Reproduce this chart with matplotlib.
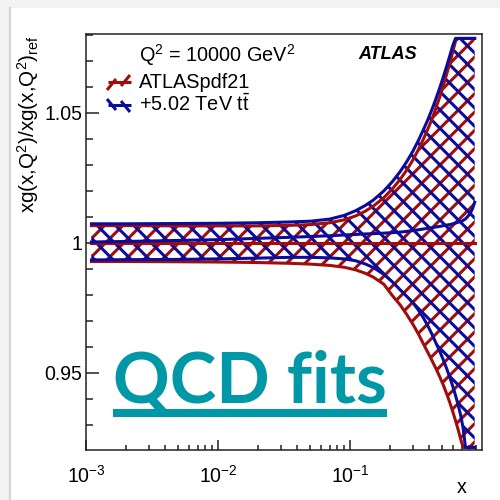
import matplotlib
matplotlib.use("Agg")
import matplotlib.pyplot as plt
from matplotlib.lines import Line2D
from matplotlib.patches import Rectangle
from matplotlib.ticker import FixedLocator, FixedFormatter, LogLocator, LogFormatterSciNotation, MultipleLocator

# ---- data ----
x = [0.0011, 0.002, 0.005, 0.01, 0.02, 0.035, 0.05, 0.07, 0.09, 0.11, 0.13, 0.15,
     0.18, 0.21, 0.24, 0.27, 0.3, 0.33, 0.36, 0.39, 0.42, 0.45, 0.48, 0.51,
     0.54, 0.57, 0.6, 0.63, 0.66, 0.69, 0.72, 0.75, 0.78, 0.82, 0.85, 0.88]

# ATLASpdf21 band (the reference, central = 1)
pdf21_up = [1.0065, 1.0065, 1.0064, 1.0064, 1.0064, 1.0066, 1.0069, 1.0076, 1.0087, 1.0102, 1.0120, 1.0140,
            1.0172, 1.0207, 1.0243, 1.0280, 1.0318, 1.0358, 1.0398, 1.0438, 1.0478, 1.0520, 1.0562, 1.0605,
            1.0648, 1.0690, 1.0733, 1.0775, 1.0785, 1.0785, 1.0785, 1.0785, 1.0785, 1.0785, 1.0785, 1.0785]
pdf21_mid = [1.0] * len(x)
pdf21_lo = [0.9927, 0.9927, 0.9926, 0.9925, 0.9923, 0.9920, 0.9917, 0.9912, 0.9905, 0.9895, 0.9882, 0.9867,
            0.9840, 0.9795, 0.9760, 0.9722, 0.9685, 0.9648, 0.9610, 0.9576, 0.9544, 0.9513, 0.9482, 0.9451,
            0.9418, 0.9385, 0.9350, 0.9315, 0.9280, 0.9243, 0.9212, 0.9212, 0.9212, 0.9212, 0.9212, 0.9212]

# +5.02 TeV ttbar band
ttbar_up = [1.0072, 1.0072, 1.0073, 1.0074, 1.0076, 1.0079, 1.0082, 1.0090, 1.0104, 1.0122, 1.0142, 1.0163,
            1.0198, 1.0235, 1.0273, 1.0312, 1.0352, 1.0393, 1.0434, 1.0474, 1.0515, 1.0556, 1.0597, 1.0638,
            1.0678, 1.0718, 1.0757, 1.0785, 1.0785, 1.0785, 1.0785, 1.0785, 1.0785, 1.0785, 1.0785, 1.0785]
ttbar_mid = [1.0002, 1.0004, 1.0008, 1.0011, 1.0016, 1.0020, 1.0023, 1.0026, 1.0029, 1.0031, 1.0033, 1.0034,
             1.0036, 1.0038, 1.0040, 1.0043, 1.0046, 1.0049, 1.0052, 1.0055, 1.0057, 1.0060, 1.0062, 1.0065,
             1.0067, 1.0069, 1.0072, 1.0075, 1.0078, 1.0081, 1.0085, 1.0091, 1.0100, 1.0115, 1.0132, 1.0155]
ttbar_lo = [0.9933, 0.9934, 0.9935, 0.9937, 0.9940, 0.9943, 0.9943, 0.9941, 0.9937, 0.9930, 0.9918, 0.9904,
            0.9878, 0.9848, 0.9818, 0.9792, 0.9768, 0.9740, 0.9710, 0.9678, 0.9645, 0.9611, 0.9580, 0.9548,
            0.9515, 0.9482, 0.9448, 0.9412, 0.9375, 0.9335, 0.9285, 0.9212, 0.9212, 0.9212, 0.9212, 0.9212]

y_ticks = [0.95, 1.0, 1.05]
y_ticklabels = ["0.95", "1", "1.05"]

RED = "#a00d0d"
BLUE = "#0c0c9c"
TEAL = "#0098a6"

plt.rcParams["font.family"] = ["Liberation Sans", "DejaVu Sans"]
plt.rcParams["mathtext.fontset"] = "custom"
plt.rcParams["mathtext.rm"] = "Liberation Sans"
plt.rcParams["mathtext.it"] = "Liberation Sans:italic"
plt.rcParams["mathtext.bf"] = "Liberation Sans:bold"
plt.rcParams["hatch.linewidth"] = 2.0

DPI = 110
fig = plt.figure(figsize=(500 / DPI, 500 / DPI), dpi=DPI)
fig.patch.set_facecolor("#f3f3f3")


def fx(p):
    return p / 500.0


def fy(p):
    return 1 - p / 500.0


# slide background (white panel with a grey strip at top/left)
fig.add_artist(Rectangle((fx(10), 0), 1, fy(8), transform=fig.transFigure,
                         facecolor="white", edgecolor="none", zorder=0))
fig.add_artist(Line2D([fx(9.5), fx(9.5)], [0, fy(8)], transform=fig.transFigure,
                      color="#d6d6d6", lw=1.5, zorder=0))

ax = fig.add_axes([fx(86), fy(450), fx(482) - fx(86), fy(34) - fy(450)])
ax.set_facecolor("white")

# bands
ax.fill_between(x, pdf21_lo, pdf21_up, facecolor="none", edgecolor=RED,
                hatch="//", linewidth=0, zorder=2)
ax.fill_between(x, ttbar_lo, ttbar_up, facecolor="none", edgecolor=BLUE,
                hatch="\\\\", linewidth=0, zorder=2)
for s in (pdf21_up, pdf21_mid, pdf21_lo):
    ax.plot(x, s, color=RED, lw=2.0, zorder=3)
for s in (ttbar_up, ttbar_mid, ttbar_lo):
    ax.plot(x, s, color=BLUE, lw=2.0, zorder=4)

ax.set_xscale("log")
ax.set_xlim(1e-3, 1.0)
ax.set_ylim(0.9202, 1.0802)

ax.yaxis.set_major_locator(FixedLocator(y_ticks))
ax.yaxis.set_major_formatter(FixedFormatter(y_ticklabels))
ax.yaxis.set_minor_locator(MultipleLocator(0.01))
ax.xaxis.set_major_locator(FixedLocator([1e-3, 1e-2, 1e-1]))
ax.xaxis.set_major_formatter(LogFormatterSciNotation())
ax.xaxis.set_minor_locator(LogLocator(base=10, subs=range(2, 10)))

ax.tick_params(axis="both", which="both", direction="in", width=1.0, colors="#222222",
               labelcolor="black", labelsize=12.8)
ax.tick_params(axis="y", which="major", length=8.5, pad=2.5)
ax.tick_params(axis="y", which="minor", length=4.6)
ax.tick_params(axis="x", which="major", length=6.8, pad=9.5)
ax.tick_params(axis="x", which="minor", length=3.4)
for sp in ax.spines.values():
    sp.set_linewidth(1.0)
    sp.set_color("#222222")

# axis titles (ROOT style, aligned to the axis ends)
fig.text(fx(28), fy(35), r"xg(x,Q$^{2}$)/xg(x,Q$^{2}$)$_{\mathrm{ref}}$", rotation=90,
         ha="center", va="top", fontsize=13.5)
fig.text(fx(467), fy(493), "x", ha="right", va="baseline", fontsize=12.8)

# legend
fig.text(fx(139), fy(61.7), r"Q$^{2}$ = 10000 GeV$^{2}$", ha="left", va="baseline", fontsize=13)
fig.text(fx(139), fy(88.3), "ATLASpdf21", ha="left", va="baseline", fontsize=13)
fig.text(fx(139), fy(111), r"+5.02 TeV $\mathrm{t\bar{t}}$", ha="left", va="baseline", fontsize=13)


def seg(xs, ys, c):
    fig.add_artist(Line2D([fx(v) for v in xs], [fy(v) for v in ys], transform=fig.transFigure,
                          color=c, lw=2.0, solid_capstyle="butt"))


seg([108, 131], [82.5, 82.5], RED)
seg([107, 116], [90, 79], RED)
seg([121, 130], [86, 75], RED)
seg([108, 131], [105, 105], BLUE)
seg([107, 116], [99, 110], BLUE)
seg([121, 130], [101, 112], BLUE)

fig.text(fx(358), fy(59), "ATLAS", ha="left", va="baseline", fontsize=11.8,
         fontweight="bold", fontstyle="italic")

# overlay title
fig.text(fx(113), fy(403), "QCD fits", ha="left", va="baseline", fontsize=46,
         fontweight="bold", family="Lato", color=TEAL)
fig.add_artist(Rectangle((fx(113), fy(417)), fx(387) - fx(113), fy(409) - fy(417),
                         transform=fig.transFigure, facecolor=TEAL, edgecolor="none"))

fig.savefig("out.png", dpi=DPI)
